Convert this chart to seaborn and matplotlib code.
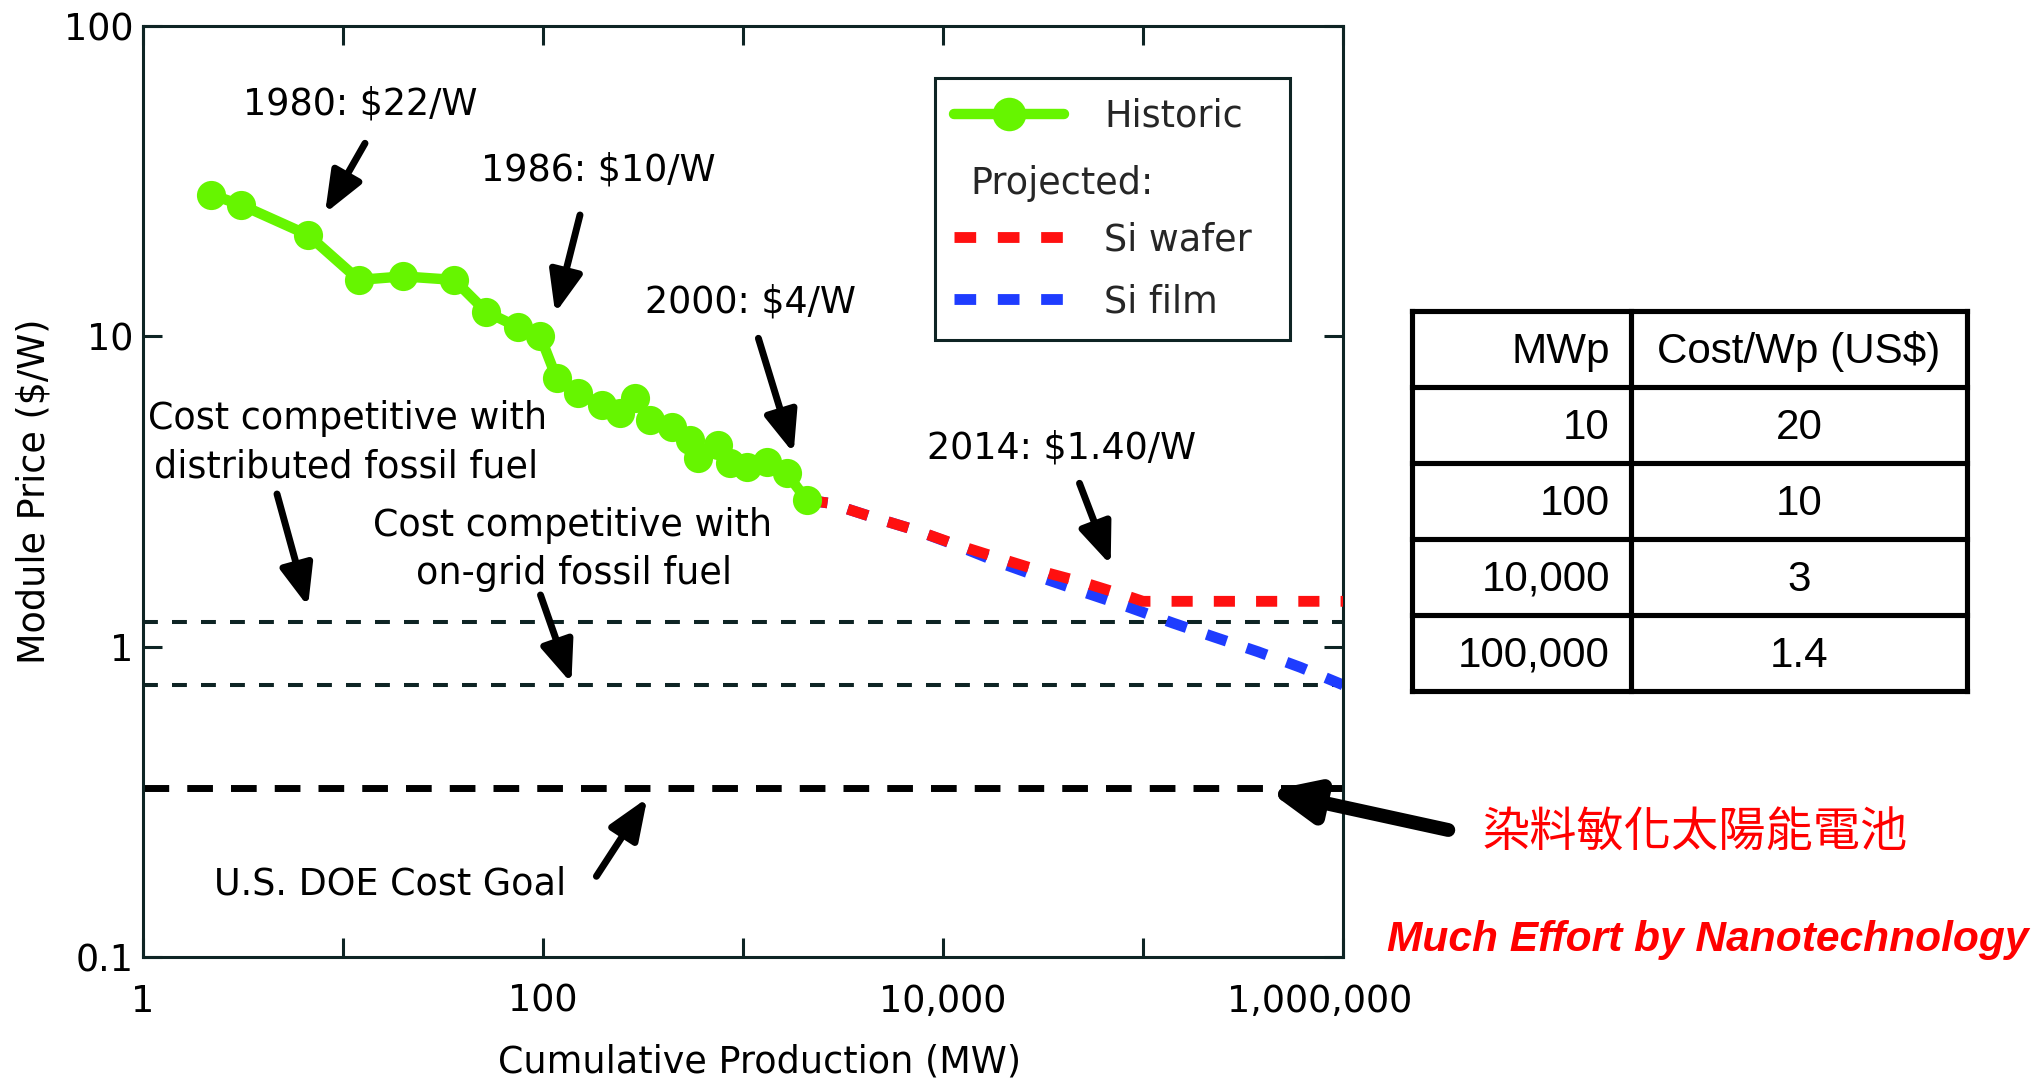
import matplotlib
matplotlib.use("Agg")
import matplotlib.pyplot as plt
import numpy as np
import pandas as pd
import seaborn as sns
from matplotlib.lines import Line2D
from matplotlib.transforms import ScaledTranslation

# ---------------- data ----------------
hist_mw = [2.2, 3.1, 6.7, 12, 20, 36, 52, 75, 97, 117, 150, 197, 243, 288, 343,
           440, 543, 598, 752, 861, 1043, 1314, 1654, 2080]
hist_price = [28.6, 26.5, 21.2, 15.2, 15.6, 15.2, 12.0, 10.7, 10.0, 7.33, 6.56, 6.01,
              5.65, 6.32, 5.38, 5.12, 4.64, 4.05, 4.47, 3.90, 3.80, 3.95, 3.62, 2.97]

wafer_mw = [2080, 2700, 4400, 7200, 11700, 19000, 32000, 52000, 85000, 100000, 1000000]
wafer_price = [2.97, 2.90, 2.62, 2.38, 2.13, 1.93, 1.74, 1.60, 1.45, 1.40, 1.40]

film_mw = [2080, 2700, 4400, 7200, 11700, 19000, 32700, 52000, 85000, 142000, 231000,
           376000, 612000, 1000000]
film_price = [2.97, 2.90, 2.62, 2.38, 2.12, 1.87, 1.65, 1.49, 1.34, 1.19, 1.07,
              0.963, 0.858, 0.753]

fossil_levels = [1.2, 0.75]   # distributed, on-grid
doe_goal = [0.35]

xtick_vals = [1, 10, 100, 1e3, 1e4, 1e5, 1e6]
xtick_labels = ["1", "", "100", "", "10,000", "", "1,000,000"]
ytick_vals = [0.1, 1, 10, 100]
ytick_labels = ["0.1", "1", "10", "100"]

legend_labels = ["Historic", "Projected:", "Si wafer", "Si film"]

table_header = ["MWp", "Cost/Wp (US\\$)"]
table_mwp = ["10", "100", "10,000", "100,000"]
table_cost = ["20", "10", "3", "1.4"]

# ---------------- layout helpers ----------------
W, H = 2033, 1082
AX_L, AX_R, AX_T, AX_B = 143, 1343, 26, 957


def axfrac(px, py):
    return ((px - AX_L) / (AX_R - AX_L), (AX_B - py) / (AX_B - AX_T))


def figfrac(px, py):
    return (px / W, 1 - py / H)


GREEN = "#66F500"
RED = "#FF1010"
BLUE = "#1E3CFF"
DARK = "#0E2424"
FS = 26.3

sns.set_theme(style="ticks")
plt.rcParams["font.family"] = ["DejaVu Sans"]
plt.rcParams["axes.edgecolor"] = DARK
plt.rcParams["lines.dash_capstyle"] = "butt"

fig = plt.figure(figsize=(W / 100, H / 100), dpi=100)
ax = fig.add_axes([AX_L / W, 1 - AX_B / H, (AX_R - AX_L) / W, (AX_B - AX_T) / H])
ax.set_xscale("log")
ax.set_yscale("log")

# reference lines
for lvl in fossil_levels:
    ax.axhline(lvl, color=DARK, lw=2.9, linestyle=(0, (3.7, 3.5)),
               dash_capstyle="butt", zorder=1)
ax.axhline(doe_goal[0], color="black", lw=5.0, linestyle=(0, (3.7, 2.6)),
           dash_capstyle="butt", zorder=1)

dash = (0, (1.95, 1.95))
PLW = 7.8
df_film = pd.DataFrame({"mw": film_mw, "price": film_price})
df_wafer = pd.DataFrame({"mw": wafer_mw, "price": wafer_price})
df_hist = pd.DataFrame({"mw": hist_mw, "price": hist_price})

sns.lineplot(data=df_film, x="mw", y="price", ax=ax, color=BLUE, lw=PLW,
             linestyle=dash, dash_capstyle="butt", errorbar=None, zorder=2)
sns.lineplot(data=df_wafer, x="mw", y="price", ax=ax, color=RED, lw=PLW,
             linestyle=dash, dash_capstyle="butt", errorbar=None, zorder=3)
sns.lineplot(data=df_hist, x="mw", y="price", ax=ax, color=GREEN, lw=7.5,
             marker="o", markersize=21, markeredgewidth=0, errorbar=None,
             zorder=4)

ax.set_xlim(1, 1e6)
ax.set_ylim(0.1, 100)
ax.xaxis.set_minor_locator(matplotlib.ticker.NullLocator())
ax.yaxis.set_minor_locator(matplotlib.ticker.NullLocator())
ax.set_xticks(xtick_vals)
ax.set_xticklabels(xtick_labels)
ax.set_yticks(ytick_vals)
ax.set_yticklabels(ytick_labels)
ax.tick_params(axis="both", which="both", direction="in", top=True, right=True,
               length=13.5, width=2.2, color=DARK, labelsize=FS, labelcolor="black")
ax.tick_params(axis="x", pad=18.5)
ax.tick_params(axis="y", pad=7)
for sp in ax.spines.values():
    sp.set_linewidth(2.2)
    sp.set_color(DARK)

# shift the last x tick label slightly left as in the reference
lab = ax.get_xticklabels()[-1]
lab.set_transform(lab.get_transform() + ScaledTranslation(-23 / 100, 0, fig.dpi_scale_trans))

ax.set_xlabel("Cumulative Production (MW)", fontsize=FS, color="black")
ax.set_ylabel("Module Price (\\$/W)", fontsize=FS, color="black")
ax.xaxis.set_label_coords(0.514, -0.0924)
ax.yaxis.set_label_coords(-0.075, 0.5)

# legend
h_hist = Line2D([], [], color=GREEN, lw=7.5, marker="o", markersize=21, markeredgewidth=0)
h_proj = Line2D([], [], color="none")
h_wafer = Line2D([], [], color=RED, lw=PLW, linestyle=(0, (2.0, 2.0)), dash_capstyle="butt")
h_film = Line2D([], [], color=BLUE, lw=PLW, linestyle=(0, (2.0, 2.0)), dash_capstyle="butt")
lx0, ly0 = axfrac(935, 341)
leg = ax.legend([h_hist, h_proj, h_wafer, h_film],
                [legend_labels[0], " ", legend_labels[2], legend_labels[3]],
                loc="upper left", bbox_to_anchor=(lx0, ly0, 355 / 1200, 263 / 931),
                mode="expand", borderaxespad=0, fontsize=FS, frameon=True,
                fancybox=False, framealpha=1, edgecolor=DARK, borderpad=0.53,
                labelspacing=0.683, handlelength=3.0, handletextpad=1.1,
                markerscale=1.15)
leg.get_frame().set_linewidth(2.2)
leg.set_zorder(10)
px, py = axfrac(970, 194)
ax.text(px, py, legend_labels[1], transform=ax.transAxes, fontsize=FS,
        ha="left", va="baseline", zorder=11)

# annotation texts (centre x, baseline y in pixels)
annots = [
    ("1980: \\$22/W", 360, 114),
    ("1986: \\$10/W", 598, 180.4),
    ("2000: \\$4/W", 751, 312.5),
    ("2014: \\$1.40/W", 1061.6, 458),
    ("Cost competitive with", 347.5, 428.6),
    ("distributed fossil fuel", 346, 477.9),
    ("Cost competitive with", 573, 535.7),
    ("on-grid fossil fuel", 574, 584),
    ("U.S. DOE Cost Goal", 390.5, 894.6),
]
for s, cx, by in annots:
    tx, ty = axfrac(cx, by)
    ax.text(tx, ty, s, transform=ax.transAxes, fontsize=FS, ha="center",
            va="baseline", color="black", zorder=6)

# arrows (tail -> tip, pixels)
arrows = [
    ((365, 143.3), (325, 213.3)),
    ((580, 215), (555.2, 313.3)),
    ((758.4, 338.3), (793.6, 453.3)),
    ((1079.5, 483.3), (1110.7, 565)),
    ((277, 494), (308, 606.6)),
    ((540.5, 595), (571.4, 683.2)),
    ((596.4, 876.3), (647.3, 798)),
]
for tail, tip in arrows:
    ax.annotate("", xy=axfrac(*tip), xytext=axfrac(*tail), xycoords="axes fraction",
                textcoords="axes fraction",
                arrowprops=dict(arrowstyle="-|>,head_length=1.25,head_width=0.5",
                                lw=5.0, color="black", shrinkA=0, shrinkB=0,
                                mutation_scale=20))
ax.annotate("", xy=axfrac(1268.3, 790.7), xytext=axfrac(1448.3, 830),
            xycoords="axes fraction", textcoords="axes fraction",
            annotation_clip=False,
            arrowprops=dict(arrowstyle="-|>,head_length=1.35,head_width=0.6",
                            lw=10.0, color="black", shrinkA=0, shrinkB=0,
                            mutation_scale=20))

# table
TL, TR, TT, TB = 1412, 1967, 311, 691
tax = fig.add_axes([TL / W, 1 - TB / H, (TR - TL) / W, (TB - TT) / H])
tax.set_xlim(TL, TR)
tax.set_ylim(TB, TT)
tax.axis("off")
row_edges = np.linspace(TT, TB, 6)
col_div = 1631
for y in row_edges:
    tax.plot([TL, TR], [y, y], color="black", lw=3.7, clip_on=False,
             solid_capstyle="projecting")
for x in [TL, col_div, TR]:
    tax.plot([x, x], [TT, TB], color="black", lw=3.7, clip_on=False,
             solid_capstyle="projecting")
tfont = dict(family=["Liberation Sans"], fontsize=30.3, color="black")
rows = [table_header] + [[a, b] for a, b in zip(table_mwp, table_cost)]
for i, (a, b) in enumerate(rows):
    base = (row_edges[i] + row_edges[i + 1]) / 2 + 13.8
    tax.text(1610, base, a, ha="right", va="baseline", **tfont)
    tax.text((col_div + TR) / 2, base, b, ha="center", va="baseline", **tfont)

# red captions
fig.text(*figfrac(1695.5, 833), "染料敏化太陽能電池", family=["Noto Sans CJK TC"],
         fontsize=34, color="#FF0000", ha="center", va="center")
fig.text(*figfrac(1708, 951), "Much Effort by Nanotechnology",
         family=["Liberation Sans"], fontsize=30.6, fontweight="bold",
         fontstyle="italic", color="#FF0000", ha="center", va="baseline")

fig.savefig("out.png", dpi=100)
